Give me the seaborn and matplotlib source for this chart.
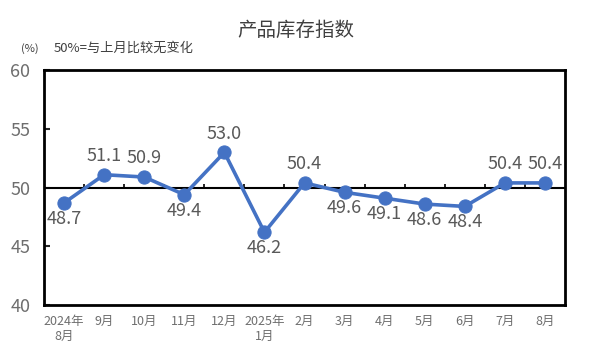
import matplotlib
matplotlib.use("Agg")
import matplotlib.pyplot as plt
import seaborn as sns

# 数据
months = ["2024年\n8月", "9月", "10月", "11月", "12月", "2025年\n1月", "2月",
          "3月", "4月", "5月", "6月", "7月", "8月"]
values = [48.7, 51.1, 50.9, 49.4, 53.0, 46.2, 50.4, 49.6, 49.1, 48.6, 48.4, 50.4, 50.4]
label_above = [False, True, True, False, True, False, True, False, False, False, False, True, True]

sns.set_style("white")
plt.rcParams["font.family"] = ["Noto Sans CJK SC", "DejaVu Sans"]

fig = plt.figure(figsize=(5.91, 3.54), dpi=100)
ax = fig.add_axes([0.0745, 0.138, 0.8815, 0.664])

xs = list(range(len(values)))

# 50线和分类间的小刻度
ax.axhline(50, color="black", linewidth=1.5, zorder=1)
ax.vlines([x + 0.5 for x in xs[:-1]], 50, 50.35, color="black", linewidth=1.2, zorder=1)

sns.lineplot(x=xs, y=values, ax=ax, color="#4472C4", linewidth=2.6,
             marker="o", markersize=9.5, markeredgecolor="#4472C4", zorder=3)

for x, v, up in zip(xs, values, label_above):
    ax.annotate(f"{v:.1f}", (x, v), xytext=(0, 7 if up else -5),
                textcoords="offset points", ha="center",
                va="bottom" if up else "top", fontsize=13, color="#595959")

ax.set_xlim(-0.5, len(values) - 0.5)
ax.set_ylim(40, 60)
ax.set_yticks([40, 45, 50, 55, 60])
ax.set_xticks(xs)
ax.set_xticklabels(months, fontsize=9, color="#6e6e6e", linespacing=1.25)
ax.tick_params(axis="y", direction="in", length=4, width=1.5, labelsize=13,
               labelcolor="#6e6e6e", left=True, pad=10)
ax.tick_params(axis="x", length=0, pad=7)

for s in ax.spines.values():
    s.set_visible(True)
    s.set_color("black")
    s.set_linewidth(2)

fig.text(0.5, 0.913, "产品库存指数", ha="center", va="center", fontsize=14, color="#404040")
fig.text(0.035, 0.864, "(%)", va="center", fontsize=8, color="#404040")
fig.text(0.09, 0.864, "50%=与上月比较无变化", va="center", fontsize=9.5, color="#404040")

fig.savefig("out.png", dpi=100)
